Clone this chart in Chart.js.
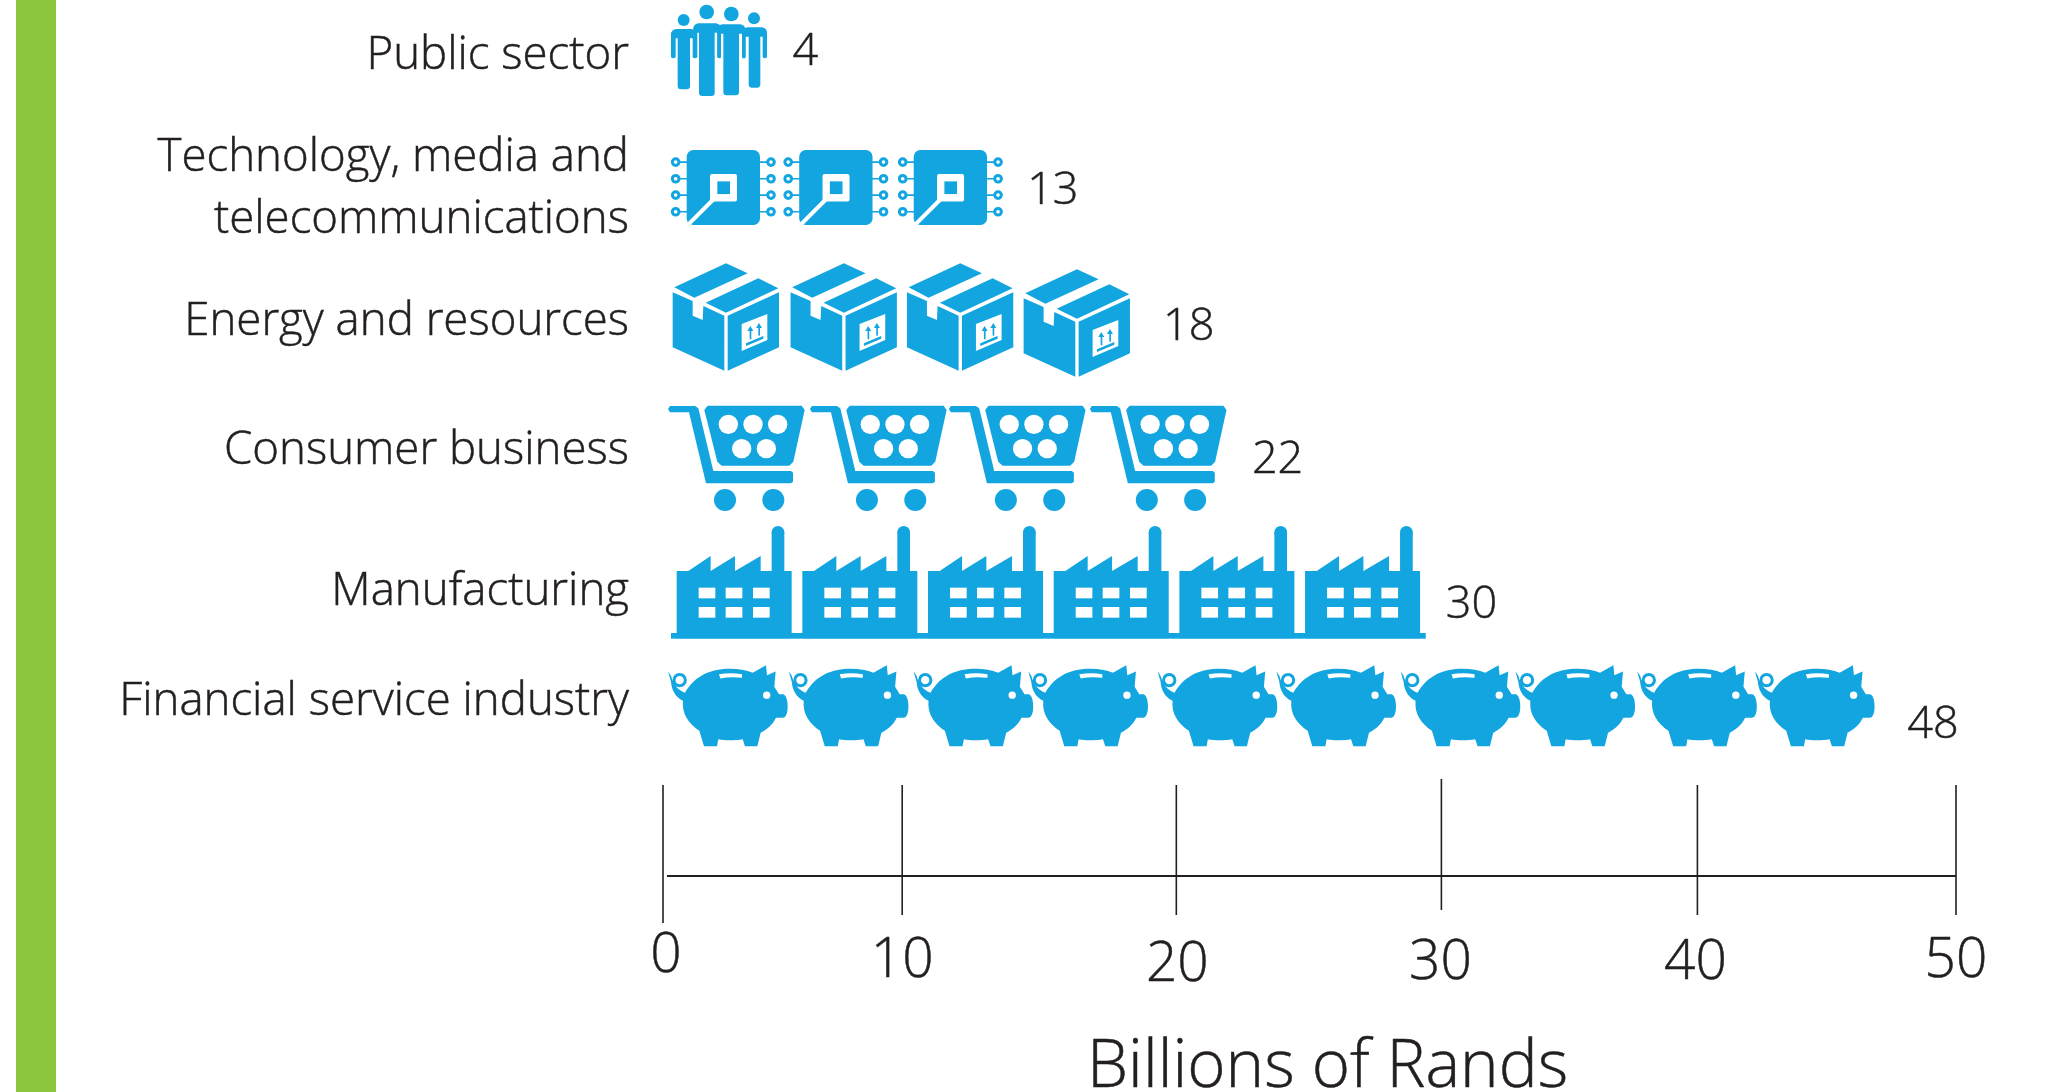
<!DOCTYPE html>
<html><head><meta charset="utf-8">
<style>html,body{margin:0;padding:0;background:#fff;overflow:hidden}#band{position:absolute;left:16px;top:0;width:40px;height:1092px;background:#8CC63F}canvas{position:absolute;left:0;top:0}</style>
<script src="https://cdn.jsdelivr.net/npm/chart.js@4/dist/chart.umd.min.js"></script>
</head><body><canvas id="c" width="2047" height="1092"></canvas><div id="band"></div>
<script>
const categories = ['Public sector', ['Technology, media and', 'telecommunications'], 'Energy and resources', 'Consumer business', 'Manufacturing', 'Financial service industry'];
const values = [4, 13, 18, 22, 30, 48];
const tickLabels = ['0', '10', '20', '30', '40', '50'];
const tickValues = [0, 9.25, 19.85, 30.1, 40, 50];
const axisTitle = 'Billions of Rands';
const iconKinds = ['people', 'chip', 'box', 'cart', 'factory', 'pig'];
const unitsPerIcon = [4, 4.39, 4.52, 5.45, 4.86, 4.67];

const INK = '#231F20', BLUE = '#12A5DF';
const FONT = '"Open Sans"';
const rowIconDy = [-14.2, -6.1, -5.2, 6.8, 1.5, -4];
const iconCy = [151, 562, 202, 625, 216, 586];
const iconNudge = [[0], [0,-1,0], [0,1,0.5,0.3], [0,1,-1,-1], [0,0,0,0,0,0], [0,0,4,-2,6.5,4.5,8,2,3,0]];
const rowLabelDy = [-8.5, -4.5, -0.5, -0.5, 11.5, -7.5];
const xLabelDy = [-5, 0, 4, 2, 2, 0];
const xLabelDx = [3, 0, 1, -1, -2, 0];
const tickSpan = [[-91,47],[-91,39],[-91,39],[-97,34],[-91,39],[-91,39]];
const valueDx = [26, 28, 34.5, 20, 7, 3];
const valueDy = [-12, -2, 5, 9, 25, 16];

function poly(c, pts){ c.beginPath(); pts.forEach((p,i)=> i? c.lineTo(p[0],p[1]) : c.moveTo(p[0],p[1])); c.closePath(); c.fill(); }
function disc(c,x,y,r){ c.beginPath(); c.arc(x,y,r,0,7); c.fill(); }
function rrect(c,x,y,w,h,r){ c.beginPath(); c.roundRect(x,y,w,h,r); c.fill(); }

const icons = {
  people(c){
    const person=(hx,hy,hr,l,r,top,al,ar,armB,bl,br,bot)=>{
      c.fillStyle=BLUE; disc(c,hx,hy,hr);
      c.beginPath(); c.roundRect(l,top,r-l,28,[16,16,0,0]); c.fill();
      rrect(c,l,top+10,al-l,armB-top-10,6); rrect(c,ar,top+10,r-ar,armB-top-10,6);
      rrect(c,bl,top+8,br-bl,bot-top-8,10);
    };
    person(131,60,18,93,169,87,107,158,175,113,150,268);
    person(342,55,18,307,381,82,317,368,175,326,361,263);
    person(200,36,22,160,243,70,172,232,175,177,224,288);
    person(274,42,22,232,316,73,243,306,175,250,297,286);
  },
  chip(c){
    c.fillStyle=BLUE; rrect(c,140,450,220,225,20);
    [486,536,585,635].forEach(y=>{
      c.strokeStyle=BLUE; c.lineWidth=5;
      c.beginPath(); c.moveTo(118,y); c.lineTo(142,y); c.moveTo(358,y); c.lineTo(382,y); c.stroke();
      c.lineWidth=9;
      c.beginPath(); c.arc(107,y,10,0,7); c.stroke();
      c.beginPath(); c.arc(393,y,10,0,7); c.stroke();
    });
    c.fillStyle='#fff'; rrect(c,210,522,81,82,6);
    c.fillStyle=BLUE; c.fillRect(232,544,38,38);
    c.strokeStyle='#fff'; c.lineWidth=12; c.beginPath(); c.moveTo(222,596); c.lineTo(146,672); c.stroke();
  },
  box(c){
    c.fillStyle=BLUE;
    poly(c,[[103,112],[258,40],[323,70],[163,143]]);
    poly(c,[[197,158],[355,85],[415,115],[258,188]]);
    poly(c,[[98,127],[158,153],[158,197],[188,210],[190,168],[253,197],[253,362],[98,292]]);
    poly(c,[[263,197],[417,127],[417,292],[263,362]]);
    c.fillStyle='#fff'; poly(c,[[305,222],[382,192],[382,270],[305,303]]);
    c.fillStyle=BLUE;
    poly(c,[[318,280],[370,258],[370,266],[318,288]]);
    [[331,268,228],[357,257,219]].forEach(a=>{
      c.fillRect(a[0]-2,a[2]+10,5,a[1]-a[2]-10);
      poly(c,[[a[0]-9,a[2]+15],[a[0],a[2]],[a[0]+9,a[2]+15]]);
    });
  },
  cart(c){
    c.fillStyle=BLUE;
    poly(c,[[90,468],[165,468],[175,475],[220,663],[453,663],[459,668],[459,695],[453,700],[198,700],[147,487],[90,487],[84,477]]);
    poly(c,[[203,467],[485,467],[494,480],[460,635],[448,647],[245,647],[232,635],[193,480]]);
    disc(c,255,750,33); disc(c,400,750,33);
    c.fillStyle='#fff';
    [[265,523],[339,523],[413,523],[305,596],[379,596]].forEach(p=>disc(c,p[0],p[1],29));
  },
  factory(c){
    c.fillStyle=BLUE;
    c.fillRect(93,369,379,17);
    poly(c,[[110,385],[110,183],[145,183],[212,138],[212,183],[285,138],[285,183],[362,138],[362,183],[395,183],[395,67],[433,67],[433,183],[455,183],[455,385]]);
    disc(c,414,67,19);
    c.fillStyle='#fff';
    [176,257,339].forEach(x=>{ c.fillRect(x,233,50,32); c.fillRect(x,291,50,32); });
  },
  pig(c){
    c.fillStyle=BLUE;
    c.beginPath();
    c.moveTo(135,548);
    c.bezierCurveTo(165,495,215,476,270,476);
    c.bezierCurveTo(295,476,320,480,338,488);
    c.lineTo(378,465); c.lineTo(381,495); c.lineTo(407,484);
    c.lineTo(403,530); c.lineTo(417,552); c.lineTo(430,552);
    c.bezierCurveTo(440,555,443,575,443,590);
    c.bezierCurveTo(443,608,438,623,428,623);
    c.lineTo(408,623);
    c.bezierCurveTo(398,645,380,658,362,668);
    c.lineTo(352,708); c.lineTo(315,708); c.lineTo(308,687);
    c.bezierCurveTo(285,691,255,691,235,687);
    c.lineTo(231,708); c.lineTo(192,708); c.lineTo(178,662);
    c.bezierCurveTo(145,640,125,610,129,572);
    c.bezierCurveTo(105,560,95,540,93,515);
    c.lineTo(84,483); c.lineTo(93,497);
    c.bezierCurveTo(100,525,115,540,135,548);
    c.closePath(); c.fill();
    c.strokeStyle=BLUE; c.lineWidth=9; c.beginPath(); c.arc(119,510,17,0,7); c.stroke();
    c.fillStyle='#fff'; disc(c,380,555,11);
    c.beginPath(); c.moveTo(237,492); c.quadraticCurveTo(272,487,306,492); c.lineTo(306,503);
    c.quadraticCurveTo(272,498,241,505); c.closePath(); c.fill();
  }
};

const pictogram = {
  id:'pictogram',
  afterLayout(chart){
    const x=chart.scales.x, y=chart.scales.y;
    y.getLabelItems().forEach((it,i)=>{ it.options.translation[1]+=rowLabelDy[i]; });
    x.getLabelItems().forEach((it,i)=>{ it.options.translation[1]+=xLabelDy[i]; it.options.translation[0]+=xLabelDx[i]; });
  },
  afterDatasetsDraw(chart){
    const c=chart.ctx, x=chart.scales.x, y=chart.scales.y, base=x.getPixelForValue(0);
    values.forEach((v,r)=>{
      const u=unitsPerIcon[r], n=Math.round(v/u), pitch=x.getPixelForValue(u)-base;
      for(let i=0;i<n;i++){
        c.save();
        const extra = (iconKinds[r]==='box' && i===3) ? 6 : 0;
        c.translate(base-23+i*pitch+iconNudge[r][i], y.getPixelForValue(r)+rowIconDy[r]+extra);
        c.scale(1/3,1/3);
        c.translate(0,-iconCy[r]);
        icons[iconKinds[r]](c);
        c.restore();
      }
    });
    const ay=876;
    c.save(); c.strokeStyle=INK; c.lineWidth=1.8;
    c.beginPath(); c.moveTo(base+4,ay); c.lineTo(x.getPixelForValue(50),ay); c.stroke();
    c.lineWidth=1.6;
    tickValues.forEach((t,i)=>{
      const px=x.getPixelForValue(t);
      c.beginPath(); c.moveTo(px,ay+tickSpan[i][0]); c.lineTo(px,ay+tickSpan[i][1]); c.stroke();
    });
    c.restore();
  },
  afterDraw(chart){
    const c=chart.ctx,x=chart.scales.x,y=chart.scales.y;
    c.save(); c.fillStyle=INK; c.strokeStyle=INK; c.lineWidth=0.5; c.font='300 45px '+FONT; c.textAlign='left'; c.textBaseline='middle';
    values.forEach((v,i)=>{
      const px=x.getPixelForValue(v)+valueDx[i], py=y.getPixelForValue(i)+valueDy[i];
      c.fillText(String(v),px,py); c.strokeText(String(v),px,py);
    });
    c.font='300 65.4px '+FONT; c.textAlign='center'; c.textBaseline='alphabetic';
    c.fillText(axisTitle,x.getPixelForValue(25.7),1087); c.strokeText(axisTitle,x.getPixelForValue(25.7),1087);
    c.restore();
  }
};

new Chart(document.getElementById('c'),{
  type:'bar',
  data:{labels:categories,datasets:[{data:values,backgroundColor:'transparent',borderWidth:0}]},
  plugins:[pictogram],
  options:{
    indexAxis:'y',responsive:false,animation:false,
    layout:{padding:{left:0,right:91,top:0,bottom:0}},
    plugins:{legend:{display:false},tooltip:{enabled:false},title:{display:false}},
    scales:{
      y:{type:'category',grid:{display:false},border:{display:false},
        afterFit(s){s.width=663;s.paddingTop=s.paddingBottom=s.paddingLeft=s.paddingRight=0;},
        ticks:{color:INK,font:{family:FONT,size:45.6,weight:'300',lineHeight:1.34},padding:26,autoSkip:false,textStrokeColor:INK,textStrokeWidth:0.5}},
      x:{type:'linear',min:0,max:50,grid:{display:false},border:{display:false},
        afterFit(s){s.height=318;s.paddingTop=s.paddingBottom=s.paddingLeft=s.paddingRight=0;},
        afterBuildTicks(s){s.ticks=tickValues.map(value=>({value}));},
        ticks:{color:INK,font:{family:FONT,size:55,weight:'300'},padding:146,maxRotation:0,autoSkip:false,textStrokeColor:INK,textStrokeWidth:0.5,
          callback(v,i){return tickLabels[i];}}
      }
    }
  }
});
</script></body></html>
